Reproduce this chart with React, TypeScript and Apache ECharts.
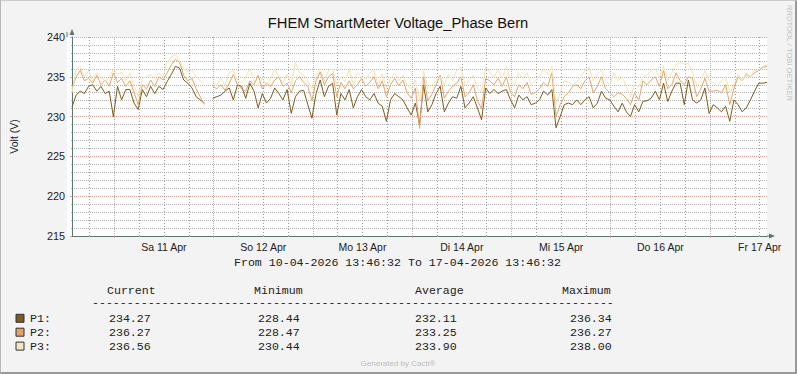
import React, { useEffect, useRef } from "react";
import * as echarts from "echarts";

// Time axis: hours after 10-04-2026 00:00; data starts 13:46:32 and spans 7 days (hourly samples)
const START_HOUR = 13 + 46 / 60 + 32 / 3600;
const END_HOUR = START_HOUR + 168;

const dayLabels = ["Sa 11 Apr", "So 12 Apr", "Mo 13 Apr", "Di 14 Apr", "Mi 15 Apr", "Do 16 Apr", "Fr 17 Apr"];
const labelHours = [36, 60, 84, 108, 132, 156, 180];
const midnightHours = [24, 48, 72, 96, 120, 144, 168];
const minorHours = [18, 30, 36, 42, 54, 60, 66, 78, 84, 90, 102, 108, 114, 126, 132, 138, 150, 156, 162, 174, 180];

const p1: (number | null)[] = [
  231.2, 232.7, 233.2, 232.9, 233.8, 234.0, 233.2, 233.8, 232.9, 233.2,
  230.0, 233.8, 232.1, 233.4, 233.4, 231.7, 230.9, 233.4, 232.5, 233.8,
  232.9, 233.8, 233.4, 234.4, 235.3, 236.3, 236.1, 234.6, 234.2, 233.6,
  232.5, 232.1, 231.7, null, 232.3, 232.5, 232.7, 233.2, 233.6, 232.1,
  234.0, 233.8, 232.3, 234.2, 233.2, 231.1, 232.9, 231.7, 232.3, 233.6,
  232.9, 232.1, 233.4, 230.4, 232.5, 233.2, 233.3, 231.5, 229.8, 232.9,
  234.6, 232.5, 233.8, 234.2, 230.2, 232.9, 232.1, 233.4, 231.1, 232.5,
  233.4, 232.5, 232.1, 232.9, 231.7, 231.3, 229.4, 232.1, 232.9, 232.5,
  232.1, 231.1, 230.2, 231.7, 229.0, 234.0, 230.6, 231.5, 232.9, 233.8,
  230.6, 231.7, 232.5, 232.3, 233.8, 231.1, 231.7, 232.5, 231.1, 229.6,
  233.6, 232.9, 233.4, 232.9, 233.2, 233.4, 232.1, 231.1, 232.7, 232.1,
  232.5, 231.5, 231.7, 232.1, 233.2, 232.7, 233.4, 228.6, 230.0, 231.5,
  231.7, 231.5, 232.1, 231.5, 232.1, 232.5, 231.1, 231.7, 233.2, 232.3,
  232.1, 231.3, 230.6, 231.7, 230.6, 230.0, 231.5, 230.6, 231.9, 232.0,
  232.3, 233.2, 232.1, 234.2, 231.9, 233.2, 234.2, 234.2, 231.5, 234.6,
  232.1, 231.7, 232.1, 233.6, 230.4, 231.5, 231.1, 230.6, 231.3, 229.4,
  232.1, 231.5, 230.6, 231.1, 232.1, 233.2, 234.2, 234.2, 234.3,
];

const p2: (number | null)[] = [
  233.5, 235.0, 235.8, 234.5, 234.8, 234.2, 235.2, 234.0, 234.6, 233.8,
  235.5, 234.3, 234.8, 233.8, 234.5, 233.0, 231.5, 234.0, 233.5, 234.6,
  233.8, 235.0, 234.6, 235.5, 236.5, 237.2, 236.8, 235.2, 234.5, 234.8,
  233.5, 232.5, 231.5, null, 233.8, 233.5, 234.0, 233.3, 234.2, 235.3,
  234.0, 233.5, 233.2, 234.5, 234.0, 235.2, 233.5, 234.2, 233.8, 234.6,
  235.0, 233.8, 234.2, 233.0, 234.5, 235.0, 234.3, 233.8, 232.0, 234.5,
  235.6, 234.0, 235.0, 235.4, 232.5, 234.3, 233.5, 234.5, 233.5, 234.0,
  234.8, 233.8, 234.3, 235.0, 233.5, 234.5, 232.5, 234.0, 234.8, 233.9,
  234.6, 233.0, 232.3, 233.6, 228.5, 235.0, 232.0, 232.8, 234.0, 235.2,
  232.3, 233.2, 233.8, 234.2, 235.0, 232.5, 233.0, 234.0, 232.0, 231.0,
  234.8, 234.5, 234.0, 234.8, 233.8, 235.0, 233.0, 232.5, 234.0, 233.5,
  234.3, 232.8, 233.0, 233.5, 234.3, 233.8, 235.5, 230.0, 231.5, 232.5,
  233.0, 233.8, 234.0, 233.5, 234.5, 235.0, 233.0, 233.8, 235.0, 233.5,
  233.0, 232.5, 233.0, 232.8, 232.3, 231.5, 233.0, 232.0, 234.5, 234.0,
  234.6, 235.0, 233.8, 235.8, 233.5, 234.0, 235.5, 234.5, 234.0, 235.0,
  234.8, 232.5, 233.5, 234.8, 233.2, 233.2, 233.3, 233.0, 234.0, 231.5,
  233.5, 235.0, 234.5, 235.3, 235.0, 235.5, 235.8, 236.2, 236.3,
];

const p3: (number | null)[] = [
  233.0, 236.0, 236.3, 235.0, 235.8, 234.5, 235.5, 235.0, 234.5, 234.8,
  236.0, 235.3, 235.6, 234.5, 235.5, 233.8, 232.5, 234.8, 235.0, 235.3,
  234.8, 235.5, 235.0, 236.8, 237.5, 237.8, 237.0, 236.0, 235.6, 235.8,
  235.0, 234.5, 234.0, null, 234.3, 234.0, 234.8, 234.0, 235.5, 235.8,
  234.6, 234.2, 235.0, 236.0, 234.5, 234.0, 234.8, 234.0, 234.7, 236.0,
  235.0, 234.3, 235.3, 234.0, 236.8, 235.5, 235.2, 234.5, 233.5, 235.0,
  236.0, 234.5, 235.8, 236.0, 234.0, 235.0, 234.4, 236.0, 234.0, 235.5,
  235.0, 234.6, 235.5, 235.8, 234.0, 235.4, 233.5, 234.8, 235.5, 234.5,
  235.2, 234.0, 233.5, 234.6, 232.0, 235.8, 233.5, 234.0, 234.5, 235.0,
  234.0, 235.3, 234.5, 235.8, 236.2, 234.0, 234.5, 235.2, 233.5, 233.0,
  236.2, 235.5, 235.0, 235.8, 234.8, 236.3, 234.5, 234.0, 235.5, 234.8,
  235.5, 234.0, 234.5, 235.0, 236.0, 235.3, 236.3, 231.5, 233.0, 234.5,
  234.3, 234.0, 234.3, 235.0, 235.8, 236.2, 234.5, 235.3, 235.8, 234.5,
  234.0, 235.5, 234.5, 235.0, 233.8, 232.5, 234.0, 233.8, 235.0, 235.2,
  235.8, 236.0, 235.0, 236.3, 234.5, 235.5, 236.5, 236.8, 236.6, 236.7,
  235.5, 234.0, 234.5, 235.8, 234.5, 234.3, 233.8, 234.5, 235.0, 233.0,
  234.0, 235.3, 234.5, 235.5, 235.0, 235.8, 235.8, 236.3, 236.5,
];

const seriesNames = ["P1:", "P2:", "P3:"];
const statCurrent = [234.27, 236.27, 236.56];
const statMinimum = [228.44, 228.47, 230.44];
const statAverage = [232.11, 233.25, 233.9];
const statMaximum = [236.34, 236.27, 238.0];

const LINE_COLORS = ["#7d5c1a", "#e6a466", "#f2e4b0"];
const BOX_COLORS = ["#7a5c1c", "#e0a268", "#eee8c2"];
const AXIS_COLOR = "#5a7870";
const RED_GRID = "#e99a9a";
const GREY_GRID = "#b4b4b4";
const GREY_VGRID = "#9c9c9c";
const MONO = "Liberation Mono";
const SANS = "Liberation Sans";

function toSeriesData(values: (number | null)[]) {
  return values.map((v, i) => [START_HOUR + i, v === null ? "-" : v]);
}

export default function App() {
  const ref = useRef<HTMLDivElement>(null);

  useEffect(() => {
    if (!ref.current) return;
    const chart = echarts.init(ref.current, undefined, { renderer: "svg" });

    const mono = (text: string, x: number, y: number, align = "left") => ({
      type: "text",
      x,
      y,
      silent: true,
      style: {
        text,
        fill: "#222",
        fontFamily: MONO,
        fontSize: 11.6,
        align,
        verticalAlign: "middle",
      },
    });

    const rowY = [318.8, 332.7, 346.6];
    const legendGraphics: any[] = [];
    seriesNames.forEach((name, i) => {
      legendGraphics.push({
        type: "rect",
        shape: { x: 16, y: rowY[i] - 4.5, width: 8, height: 8 },
        style: { fill: BOX_COLORS[i], stroke: "#333", lineWidth: 1 },
      });
      legendGraphics.push(mono(name, 30, rowY[i]));
      legendGraphics.push(mono(statCurrent[i].toFixed(2), 109, rowY[i]));
      legendGraphics.push(mono(statMinimum[i].toFixed(2), 258, rowY[i]));
      legendGraphics.push(mono(statAverage[i].toFixed(2), 415, rowY[i]));
      legendGraphics.push(mono(statMaximum[i].toFixed(2), 570, rowY[i]));
    });

    const option: any = {
      animation: false,
      backgroundColor: "transparent",
      grid: { left: 67, top: 37, width: 700, height: 199, show: false },
      xAxis: [
        {
          type: "value",
          min: START_HOUR,
          max: END_HOUR,
          axisLine: {
            show: true,
            onZero: false,
            lineStyle: { color: AXIS_COLOR, width: 1 },
            symbol: ["none", "triangle"],
            symbolSize: [5, 6],
            symbolOffset: [0, 5],
          },
          axisTick: {
            show: true,
            customValues: midnightHours,
            length: 2,
            lineStyle: { color: RED_GRID },
          },
          axisLabel: {
            customValues: labelHours,
            formatter: (v: number) => dayLabels[labelHours.indexOf(Math.round(v))] ?? "",
            color: "#222",
            fontFamily: SANS,
            fontSize: 10.5,
            margin: 5,
          },
          splitLine: { show: true, lineStyle: { color: RED_GRID, type: "dotted", width: 1 } },
        },
        {
          type: "value",
          min: START_HOUR,
          max: END_HOUR,
          position: "bottom",
          axisLine: { show: false },
          axisLabel: { show: false },
          axisTick: { show: true, customValues: minorHours, length: 1, lineStyle: { color: GREY_GRID } },
          splitLine: { show: true, lineStyle: { color: GREY_VGRID, type: [1, 2], width: 1 } },
        },
      ],
      yAxis: {
        type: "value",
        min: 215,
        max: 240,
        interval: 5,
        name: "Volt (V)",
        nameLocation: "middle",
        nameGap: 53,
        nameTextStyle: { color: "#222", fontFamily: SANS, fontSize: 10.5 },
        axisLine: {
          show: true,
          onZero: false,
          lineStyle: { color: AXIS_COLOR, width: 1 },
          symbol: ["none", "triangle"],
          symbolSize: [5, 6],
          symbolOffset: [0, 5],
        },
        axisTick: { show: true, length: 2, lineStyle: { color: RED_GRID } },
        minorTick: { show: true, splitNumber: 5, length: 1, lineStyle: { color: GREY_GRID } },
        axisLabel: { color: "#222", fontFamily: SANS, fontSize: 10.8, margin: 7 },
        splitLine: { show: true, lineStyle: { color: RED_GRID, type: "dotted", width: 1 } },
        minorSplitLine: { show: true, lineStyle: { color: GREY_GRID, type: "dotted", width: 1 } },
      },
      series: [p1, p2, p3].map((vals, i) => ({
        name: seriesNames[i],
        type: "line",
        data: toSeriesData(vals),
        xAxisIndex: 0,
        yAxisIndex: 0,
        showSymbol: false,
        symbol: "none",
        connectNulls: false,
        lineStyle: { color: LINE_COLORS[i], width: 1 },
        itemStyle: { color: LINE_COLORS[i] },
        z: 3 + i,
      })),
      graphic: [
        {
          type: "line",
          shape: { x1: 67, y1: 37, x2: 67, y2: 32 },
          style: { stroke: AXIS_COLOR, lineWidth: 1 },
        },
        {
          type: "line",
          shape: { x1: 767, y1: 236, x2: 772, y2: 236 },
          style: { stroke: AXIS_COLOR, lineWidth: 1 },
        },
        {
          type: "text",
          x: 398,
          y: 22.5,
          style: {
            text: "FHEM SmartMeter Voltage_Phase Bern",
            fill: "#111",
            fontFamily: SANS,
            fontSize: 14.7,
            align: "center",
            verticalAlign: "middle",
          },
        },
        {
          type: "text",
          x: 789,
          y: 5,
          rotation: -Math.PI / 2,
          style: {
            text: "RRDTOOL / TOBI OETIKER",
            fill: "#c2c2c2",
            fontFamily: SANS,
            fontSize: 7.6,
            align: "left",
            verticalAlign: "middle",
          },
        },
        mono("From 10-04-2026 13:46:32 To 17-04-2026 13:46:32", 234, 262.8),
        mono("Current", 107, 290.7),
        mono("Minimum", 254, 290.7),
        mono("Average", 415, 290.7),
        mono("Maximum", 562, 290.7),
        mono("-".repeat(75), 92, 302.5),
        ...legendGraphics,
        {
          type: "text",
          x: 398,
          y: 363,
          style: {
            text: "Generated by Cacti®",
            fill: "#bdbdbd",
            fontFamily: SANS,
            fontSize: 8,
            align: "center",
            verticalAlign: "middle",
          },
        },
      ],
    };

    chart.setOption(option);
    return () => chart.dispose();
  }, []);

  return (
    <div style={{ position: "fixed", left: 0, top: 0, width: 797, height: 374, background: "#f3f3f3" }}>
      <div style={{ position: "absolute", left: 67, top: 37, width: 700, height: 199, background: "#ffffff" }} />
      <div ref={ref} style={{ position: "absolute", left: 0, top: 0, width: 797, height: 374 }} />
      <div
        style={{
          position: "absolute",
          left: 0,
          top: 0,
          width: 797,
          height: 374,
          boxSizing: "border-box",
          borderTop: "1px solid #cccccc",
          borderLeft: "1px solid #b8b8b8",
          borderRight: "2px solid #9a9a9a",
          borderBottom: "2px solid #9a9a9a",
          pointerEvents: "none",
        }}
      />
    </div>
  );
}
